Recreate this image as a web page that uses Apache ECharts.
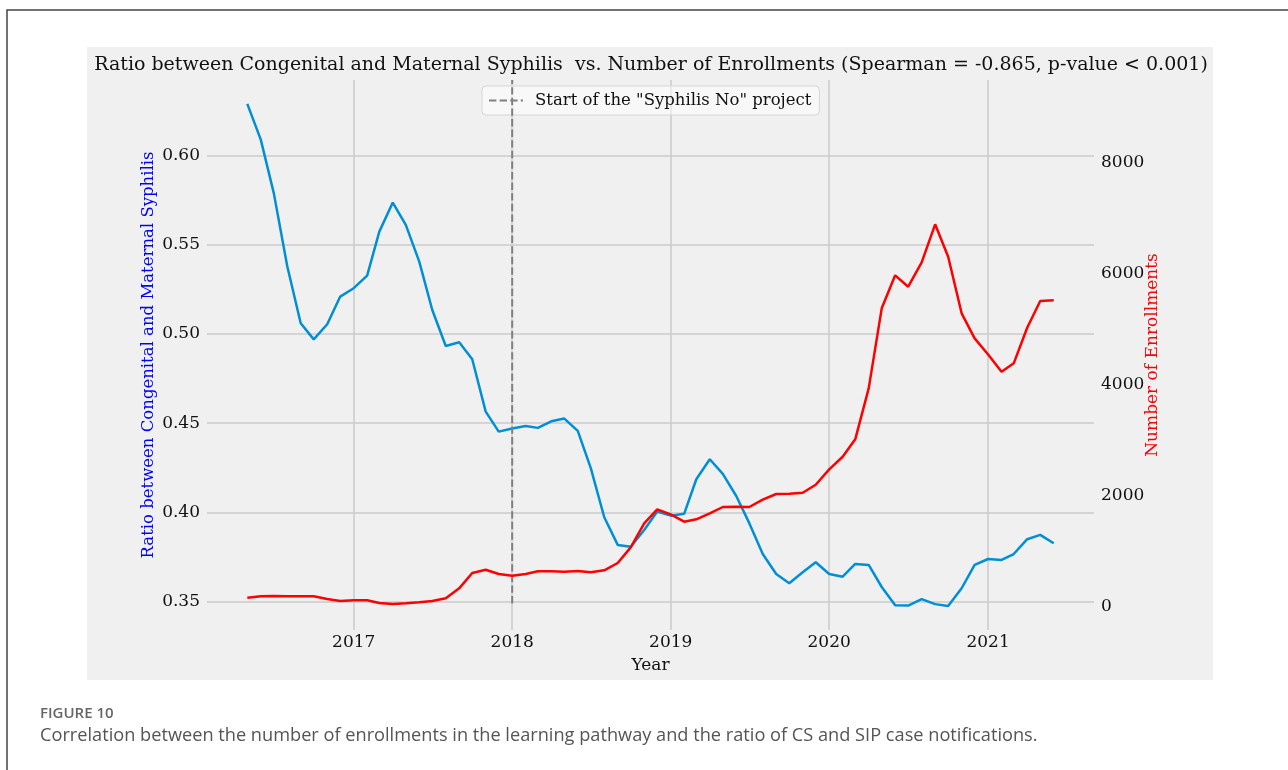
<!DOCTYPE html>
<html>
<head>
<meta charset="utf-8">
<script src="https://cdn.jsdelivr.net/npm/echarts@6/dist/echarts.min.js"></script>
<style>
  html, body { margin: 0; padding: 0; background: #fff; }
  #chart { width: 1288px; height: 770px; }
</style>
</head>
<body>
<div id="chart"></div>
<script>
const months = [
  "2016-05", "2016-06", "2016-07", "2016-08", "2016-09", "2016-10", "2016-11", "2016-12",
  "2017-01", "2017-02", "2017-03", "2017-04", "2017-05", "2017-06", "2017-07", "2017-08",
  "2017-09", "2017-10", "2017-11", "2017-12", "2018-01", "2018-02", "2018-03", "2018-04",
  "2018-05", "2018-06", "2018-07", "2018-08", "2018-09", "2018-10", "2018-11", "2018-12",
  "2019-01", "2019-02", "2019-03", "2019-04", "2019-05", "2019-06", "2019-07", "2019-08",
  "2019-09", "2019-10", "2019-11", "2019-12", "2020-01", "2020-02", "2020-03", "2020-04",
  "2020-05", "2020-06", "2020-07", "2020-08", "2020-09", "2020-10", "2020-11", "2020-12",
  "2021-01", "2021-02", "2021-03", "2021-04", "2021-05", "2021-06",
];

// ratio CS / SIP
const ratio = [
  0.629, 0.609, 0.579, 0.538, 0.506, 0.497, 0.5055, 0.521,
  0.5257, 0.5327, 0.5574, 0.5737, 0.5612, 0.5406, 0.5135, 0.4933,
  0.4954, 0.4859, 0.4565, 0.4453, 0.447, 0.4485, 0.4474, 0.4511,
  0.4526, 0.4457, 0.4248, 0.3973, 0.3818, 0.3808, 0.3902, 0.4005,
  0.3982, 0.3992, 0.4186, 0.4298, 0.4216, 0.4092, 0.394, 0.3767,
  0.3655, 0.3603, 0.3665, 0.3721, 0.3655, 0.364, 0.3711, 0.3706,
  0.3582, 0.348, 0.3478, 0.3514, 0.3486, 0.3476, 0.3575, 0.3706,
  0.3739, 0.3734, 0.3767, 0.385, 0.3874, 0.3827,
];

// number of enrollments
const enrollments = [
  162, 187, 193, 187, 187, 187, 139, 103,
  115, 115, 67, 49, 61, 79, 103, 151,
  331, 607, 666, 589, 558, 589, 637, 637,
  631, 643, 619, 655, 787, 1069, 1501, 1753,
  1663, 1531, 1573, 1681, 1795, 1800, 1795, 1926,
  2029, 2034, 2052, 2196, 2473, 2700, 3013, 3931,
  5371, 5965, 5760, 6199, 6883, 6300, 5281, 4831,
  4540, 4230, 4381, 5022, 5503, 5515,
];

const projectStart = "2018-01";
const projectName = 'Start of the "Syphilis No" project';
const yearTicks = ["2017-01", "2018-01", "2019-01", "2020-01", "2021-01"];
const ratioTicks = [0.35, 0.4, 0.45, 0.5, 0.55, 0.6];
const enrollTicks = [0, 2000, 4000, 6000, 8000];

const serif = "DejaVu Serif";
const leftMin = 0.3341, leftMax = 0.6424;

// month string -> timestamp (UTC)
const t = (s) => Date.parse(s + "-01T00:00:00Z");

const chart = echarts.init(document.getElementById("chart"));

chart.setOption({
  backgroundColor: "#fff",
  animation: false,
  graphic: [
    {
      type: "rect",
      z: -10,
      shape: { x: 7, y: 10, width: 1300, height: 800 },
      style: { fill: "#fff", stroke: "#444", lineWidth: 1.5 },
    },
    {
      type: "rect",
      z: -9,
      shape: { x: 87, y: 47, width: 1126, height: 633 },
      style: { fill: "#f0f0f0" },
    },
    {
      type: "text",
      left: 40,
      top: 706,
      style: { text: "FIGURE 10", fill: "#666", font: "600 15px 'Open Sans'" },
    },
    {
      type: "text",
      left: 40,
      top: 727,
      style: {
        text: "Correlation between the number of enrollments in the learning pathway and the ratio of CS and SIP case notifications.",
        fill: "#555",
        font: "18.2px 'Open Sans'",
      },
    },
  ],
  title: {
    text: "Ratio between Congenital and Maternal Syphilis  vs. Number of Enrollments (Spearman = -0.865, p-value < 0.001)",
    left: 646,
    textAlign: "center",
    top: 51,
    textStyle: { fontFamily: serif, fontSize: 19, fontWeight: "normal", color: "#111" },
  },
  legend: {
    data: [projectName],
    left: 482,
    top: 86,
    padding: [6, 8, 6, 6],
    itemWidth: 34,
    itemHeight: 14,
    itemStyle: { opacity: 0 },
    backgroundColor: "rgba(255,255,255,0.5)",
    borderColor: "#d6d6d6",
    borderWidth: 1,
    borderRadius: 4,
    textStyle: { fontFamily: serif, fontSize: 16.5, color: "#111", padding: [0, 0, 0, 7] },
  },
  grid: { left: 207, right: 194, top: 80, bottom: 140 },
  xAxis: {
    type: "value",
    min: Date.parse("2016-01-29T04:00:00Z"),
    max: Date.parse("2021-09-01T20:00:00Z"),
    name: "Year",
    nameLocation: "middle",
    nameGap: 27,
    nameTextStyle: { fontFamily: serif, fontSize: 17, color: "#111" },
    axisLine: { show: false },
    axisTick: { show: false, customValues: yearTicks.map(t) },
    axisLabel: {
      customValues: yearTicks.map(t),
      margin: 4,
      fontFamily: serif,
      fontSize: 17,
      color: "#111",
      formatter: (v) => String(new Date(v).getUTCFullYear()),
    },
    splitLine: { show: true, lineStyle: { color: "#cbcbcb", width: 1.5 } },
  },
  yAxis: [
    {
      type: "value",
      min: leftMin,
      max: leftMax,
      name: "Ratio between Congenital and Maternal Syphilis",
      nameLocation: "middle",
      nameRotate: 90,
      nameGap: 50,
      nameMoveOverlap: false,
      nameTextStyle: { fontFamily: serif, fontSize: 16.5, color: "#0000ff" },
      axisLine: { show: false },
      axisTick: { show: false, customValues: ratioTicks },
      axisLabel: {
        customValues: ratioTicks,
        margin: 7,
        fontFamily: serif,
        fontSize: 17,
        color: "#111",
        formatter: (v) => v.toFixed(2),
      },
      splitLine: { show: true, lineStyle: { color: "#cbcbcb", width: 1.5 } },
    },
    {
      type: "value",
      min: -419,
      max: 9481,
      name: "Number of Enrollments",
      nameLocation: "middle",
      nameRotate: 90,
      nameGap: 50,
      nameMoveOverlap: false,
      nameTextStyle: { fontFamily: serif, fontSize: 17, color: "#ff0000" },
      axisLine: { show: false },
      axisTick: { show: false, customValues: enrollTicks },
      axisLabel: {
        customValues: enrollTicks,
        margin: 7,
        fontFamily: serif,
        fontSize: 17,
        color: "#111",
        formatter: (v) => String(v),
      },
      splitLine: { show: false },
    },
  ],
  series: [
    {
      name: "ratio",
      type: "line",
      yAxisIndex: 0,
      symbol: "none",
      data: months.map((m, i) => [t(m), ratio[i]]),
      lineStyle: { color: "#008fd5", width: 2.5 },
      itemStyle: { color: "#008fd5" },
      z: 3,
    },
    {
      name: projectName,
      type: "line",
      yAxisIndex: 0,
      symbol: "none",
      data: [[t(projectStart), 0.349], [t(projectStart), leftMax]],
      lineStyle: { color: "#808080", width: 2, type: [7.4, 3.2] },
      itemStyle: { color: "#808080" },
      z: 4,
    },
    {
      name: "enrollments",
      type: "line",
      yAxisIndex: 1,
      symbol: "none",
      data: months.map((m, i) => [t(m), enrollments[i]]),
      lineStyle: { color: "#ff0000", width: 2.5 },
      itemStyle: { color: "#ff0000" },
      z: 5,
    },
  ],
});
</script>
</body>
</html>
